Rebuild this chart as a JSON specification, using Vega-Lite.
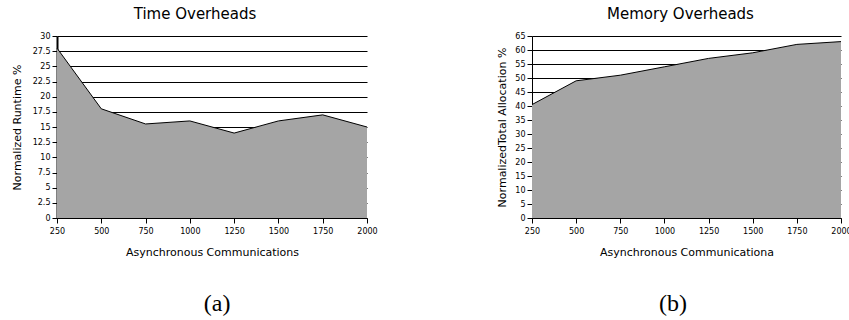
{
  "$schema": "https://vega.github.io/schema/vega-lite/v6.json",
  "padding": {"left": 11, "top": 7, "right": 0, "bottom": 0},
  "background": "white",
  "spacing": 118,
  "config": {
    "view": {"stroke": null},
    "font": "DejaVu Sans",
    "axis": {
      "labelFont": "DejaVu Sans",
      "titleFont": "DejaVu Sans",
      "labelFontSize": 8,
      "titleFontSize": 11,
      "titleFontWeight": "normal",
      "labelColor": "#000",
      "titleColor": "#000",
      "domainColor": "#000",
      "tickColor": "#000",
      "gridColor": "#000",
      "gridOpacity": 1,
      "tickSize": 5,
      "labelPadding": 2,
      "labelFlush": false
    },
    "title": {"font": "DejaVu Sans", "fontSize": 15, "fontWeight": "normal", "color": "#000"}
  },
  "hconcat": [
    {
      "title": {"text": "(a)", "orient": "bottom", "font": "Liberation Serif", "fontSize": 24, "offset": 35, "dx": 23, "anchor": "middle"},
      "vconcat": [
        {
          "title": {"text": "Time Overheads", "anchor": "middle", "offset": 10, "dx": -17},
          "width": 310,
          "height": 182,
          "data": {"values": [
            {"comm": 250, "value": 28},
            {"comm": 500, "value": 18},
            {"comm": 750, "value": 15.5},
            {"comm": 1000, "value": 16},
            {"comm": 1250, "value": 14},
            {"comm": 1500, "value": 16},
            {"comm": 1750, "value": 17},
            {"comm": 2000, "value": 15}
          ]},
          "encoding": {
            "x": {"field": "comm", "type": "quantitative",
              "scale": {"domain": [250, 2000], "nice": false, "zero": false},
              "axis": {"values": [250, 500, 750, 1000, 1250, 1500, 1750, 2000], "format": "d", "grid": false, "title": "Asynchronous Communications", "titlePadding": 11, "labelPadding": 4}},
            "y": {"field": "value", "type": "quantitative",
              "scale": {"domain": [0, 30], "nice": false},
              "axis": {"values": [0, 2.5, 5, 7.5, 10, 12.5, 15, 17.5, 20, 22.5, 25, 27.5, 30], "format": ".1~f", "grid": true, "title": "Normalized Runtime %", "titlePadding": 10, "domainWidth": 2}}
          },
          "layer": [
            {"mark": {"type": "area", "color": "#a5a5a5", "opacity": 1}},
            {"mark": {"type": "line", "color": "#000", "strokeWidth": 1}}
          ]
        }
      ]
    },
    {
      "title": {"text": "(b)", "orient": "bottom", "font": "Liberation Serif", "fontSize": 24, "offset": 35, "dx": -1, "anchor": "middle"},
      "vconcat": [
        {
          "title": {"text": "Memory Overheads", "anchor": "middle", "offset": 10, "dx": -6},
          "width": 309,
          "height": 182,
          "data": {"values": [
            {"comm": 250, "value": 40.5},
            {"comm": 500, "value": 49},
            {"comm": 750, "value": 51},
            {"comm": 1000, "value": 54},
            {"comm": 1250, "value": 57},
            {"comm": 1500, "value": 59},
            {"comm": 1750, "value": 62},
            {"comm": 2000, "value": 63}
          ]},
          "encoding": {
            "x": {"field": "comm", "type": "quantitative",
              "scale": {"domain": [250, 2000], "nice": false, "zero": false},
              "axis": {"values": [250, 500, 750, 1000, 1250, 1500, 1750, 2000], "format": "d", "grid": false, "title": "Asynchronous Communicationa", "titlePadding": 11, "labelPadding": 4}},
            "y": {"field": "value", "type": "quantitative",
              "scale": {"domain": [0, 65], "nice": false},
              "axis": {"values": [0, 5, 10, 15, 20, 25, 30, 35, 40, 45, 50, 55, 60, 65], "format": "d", "grid": true, "title": "NormalizedTotal Allocation %", "titlePadding": 7}}
          },
          "layer": [
            {"mark": {"type": "area", "color": "#a5a5a5", "opacity": 1}},
            {"mark": {"type": "line", "color": "#000", "strokeWidth": 1}}
          ]
        }
      ]
    }
  ]
}
